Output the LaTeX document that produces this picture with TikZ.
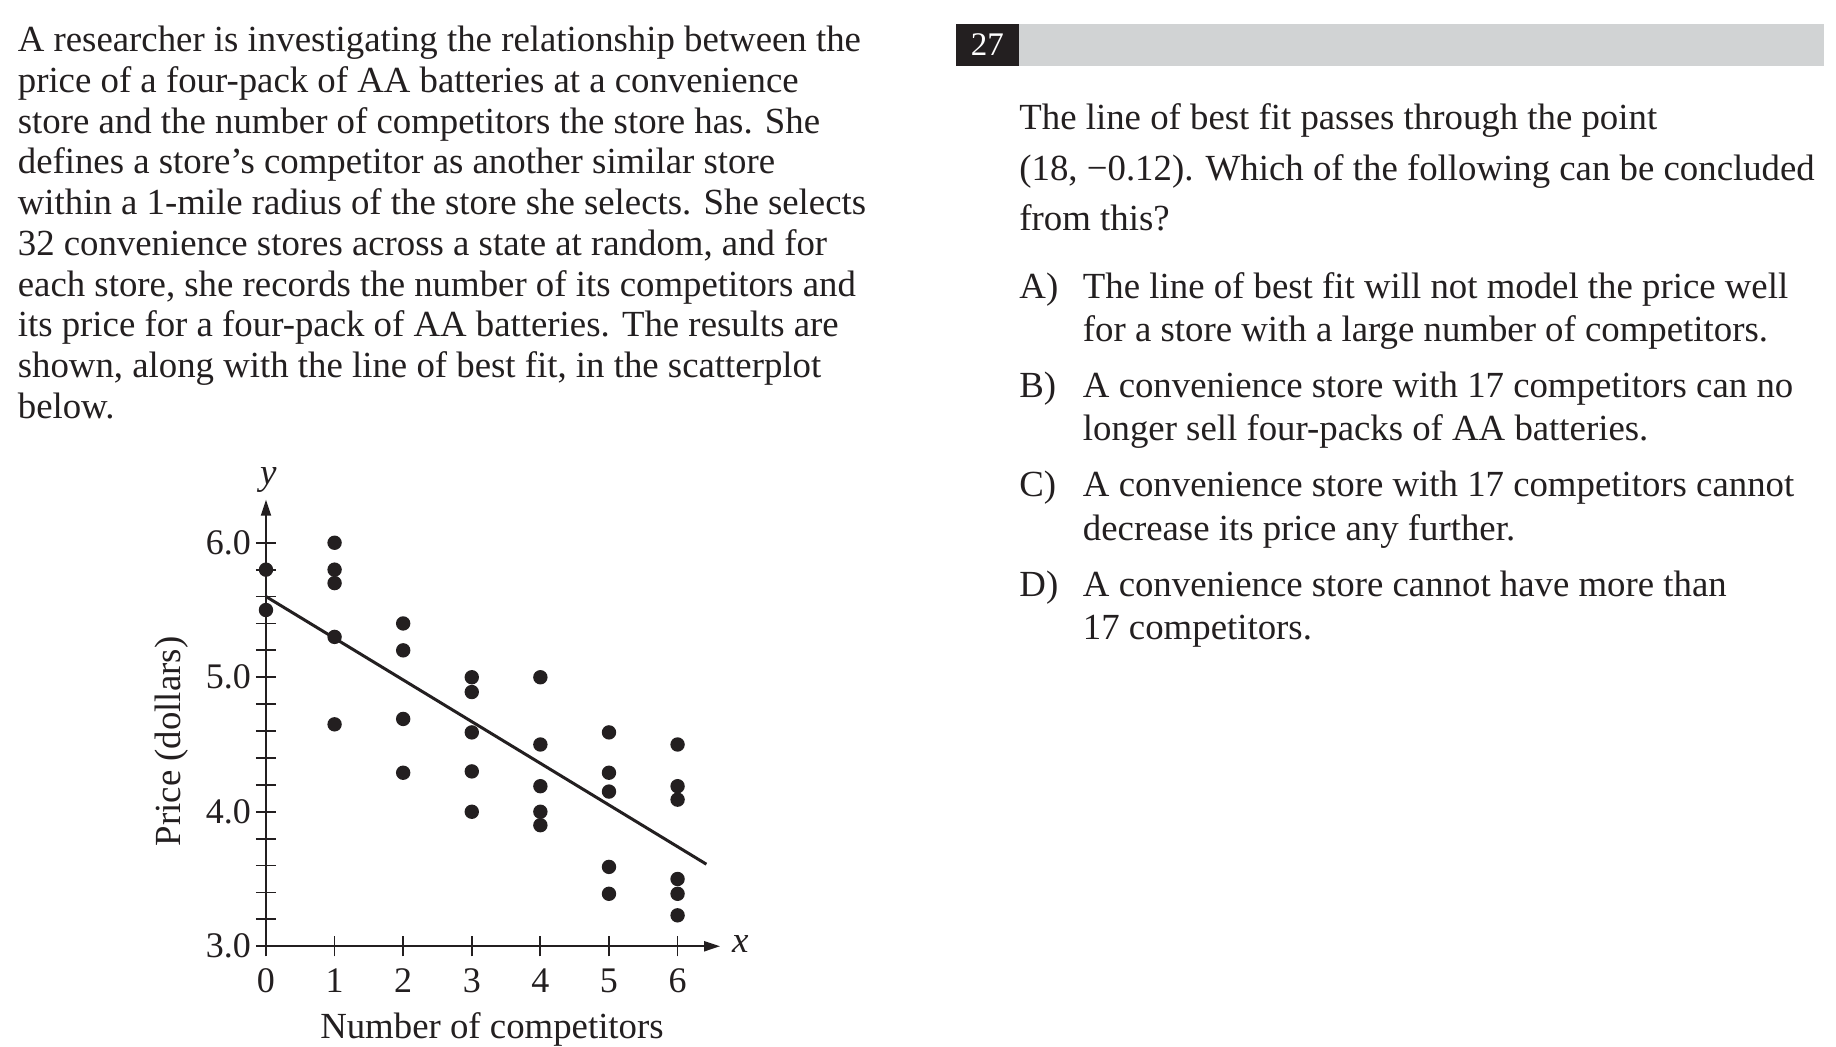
\documentclass[tikz,border=0pt]{standalone}
\usepackage{fontspec}
\setmainfont{Liberation Serif}
\usetikzlibrary{arrows.meta}
\definecolor{ink}{HTML}{231F20}
\definecolor{barg}{HTML}{D1D3D4}
\begin{document}
\begin{tikzpicture}[x=1.17692pt,y=-1.17692pt,
  txt/.style={anchor=base west, inner sep=0pt, font=\fontsize{36.8}{40}\selectfont, text=ink},
  tl/.style={inner sep=0pt, font=\fontsize{36}{40}\selectfont, text=ink},
  axis/.style={draw=ink, line width=2pt},
  tick/.style={draw=ink, line width=1.8pt},
  fitline/.style={draw=ink, line width=3pt},
  dot/.style={fill=ink}]
\useasboundingbox (0,0) rectangle (1560,888.76);
\fill[white] (0,0) rectangle (1560,888.76);

% left paragraph
\node[txt] (l1) at (15,44.0) {A researcher is investigating the relationship between the};
\node[txt] (l2) at (15,78.6) {price of a four-pack of AA batteries at a convenience};
\node[txt] (l3) at (15,113.2) {store and the number of competitors the store has. She};
\node[txt] (l4) at (15,147.8) {defines a store’s competitor as another similar store};
\node[txt] (l5) at (15,182.4) {within a 1-mile radius of the store she selects. She selects};
\node[txt] (l6) at (15,217.0) {32 convenience stores across a state at random, and for};
\node[txt] (l7) at (15,251.6) {each store, she records the number of its competitors and};
\node[txt] (l8) at (15,286.2) {its price for a four-pack of AA batteries. The results are};
\node[txt] (l9) at (15,320.8) {shown, along with the line of best fit, in the scatterplot};
\node[txt] (l10) at (15,355.4) {below.};

% question header
\fill[barg] (866,20.4) rectangle (1550,55.8);
\node[fill=ink, inner sep=0pt, minimum width=54*1.17692pt, minimum height=35.4*1.17692pt] (qbox) at (839,38.1) {};
\node[inner sep=0pt, text=white, font=\fontsize{33}{36}\selectfont] (qnum) at (qbox) {27};

% question text
\node[txt] (q1) at (866,110) {The line of best fit passes through the point};
\node[txt] (q2) at (866,153) {(18, −0.12). Which of the following can be concluded};
\node[txt] (q3) at (866,196) {from this?};

\node[txt] (ca) at (866,254) {A)};
\node[txt] (ca1) at (920,254) {The line of best fit will not model the price well};
\node[txt] (ca2) at (920,290) {for a store with a large number of competitors.};
\node[txt] (cb) at (866,338) {B)};
\node[txt] (cb1) at (920,338) {A convenience store with 17 competitors can no};
\node[txt] (cb2) at (920,374) {longer sell four-packs of AA batteries.};
\node[txt] (cc) at (866,422) {C)};
\node[txt] (cc1) at (920,422) {A convenience store with 17 competitors cannot};
\node[txt] (cc2) at (920,459) {decrease its price any further.};
\node[txt] (cd) at (866,507) {D)};
\node[txt] (cd1) at (920,507) {A convenience store cannot have more than};
\node[txt] (cd2) at (920,543) {17 competitors.};

% axis labels
\node[inner sep=0pt, text=ink, font=\fontsize{37}{40}\selectfont\itshape] (ylab) at (228,408) {y};
\node[inner sep=0pt, text=ink, font=\fontsize{37}{40}\selectfont\itshape] (xlab) at (629,802) {x};
\node[txt, anchor=base] (xtitle) at (418,882) {Number of competitors};
\node[txt, anchor=center, rotate=90] (ytitle) at (146,630) {Price (dollars)};

% plot
\begin{scope}[shift={(265.98pt,-946.24pt)}, x=68.6pt, y=134.5pt]
  \coordinate (O) at (0,0);
  \coordinate (ytip) at (0,3.32);
  \coordinate (xtip) at (6.62,0);
  \draw[axis,-{Triangle[length=16pt,width=10pt]}] (O) -- (ytip);
  \draw[axis,-{Triangle[length=16pt,width=10pt]}] (O) -- (xtip);
  \foreach \k in {0,...,15}
    \draw[tick] ([xshift=-10pt]0,\k*0.2) -- ([xshift=10pt]0,\k*0.2);
  \foreach \k in {0,...,6}
    \draw[tick] ([yshift=-10pt]\k,0) -- ([yshift=10pt]\k,0);
  \foreach \v/\l [count=\i] in {3/6.0,2/5.0,1/4.0,0/3.0}
    \node[tl, anchor=east] (yt\i) at ([xshift=-15pt]0,\v) {\l};
  \foreach \k in {0,...,6}
    \node[tl, anchor=north] (xt\k) at ([yshift=-22pt]\k,0) {\k};
  \coordinate (f0) at (0,2.6);
  \coordinate (f1) at (6.42,0.61);
  \draw[fitline] (f0) -- (f1);
  \foreach \a/\b in {0/5.8,0/5.5,
      1/6.0,1/5.8,1/5.7,1/5.3,1/4.65,
      2/5.4,2/5.2,2/4.69,2/4.29,
      3/5.0,3/4.89,3/4.59,3/4.3,3/4.0,
      4/5.0,4/4.5,4/4.19,4/4.0,4/3.9,
      5/4.59,5/4.29,5/4.15,5/3.59,5/3.39,
      6/4.5,6/4.19,6/4.09,6/3.5,6/3.39,6/3.23}
    \fill[dot] (\a,{\b-3}) circle (7.2pt);
\end{scope}
\end{tikzpicture}
\end{document}
